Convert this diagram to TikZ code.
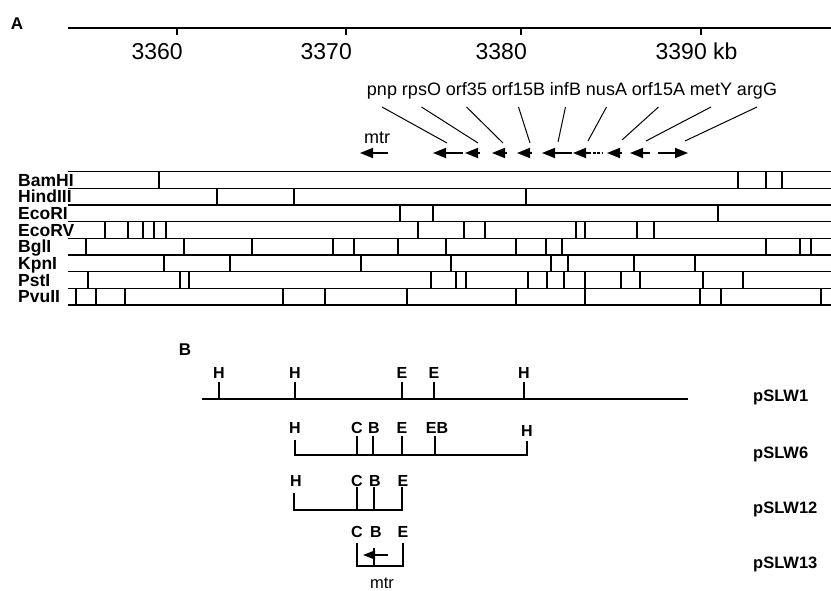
\documentclass[tikz,border=0pt]{standalone}
\usepackage{fontspec}
\setmainfont{Liberation Sans}
\usetikzlibrary{arrows.meta}
\begin{document}
\begin{tikzpicture}[x=1pt,y=-1pt,
  every node/.style={inner sep=0pt},
  rule/.style={line width=1.3pt},
  cutline/.style={line width=1.2pt},
  numlabel/.style={font=\fontsize{23}{27}\selectfont, anchor=base east},
  genelabel/.style={font=\fontsize{18}{21}\selectfont, anchor=base},
  enzlabel/.style={font=\bfseries\fontsize{17.5}{20}\selectfont, anchor=base west},
  sitelabel/.style={font=\bfseries\fontsize{16}{19}\selectfont, anchor=base},
  plasmid/.style={font=\bfseries\fontsize{16.5}{19}\selectfont, anchor=base west},
  panel/.style={font=\bfseries\fontsize{17}{20}\selectfont, anchor=base},
  pointer/.style={line width=1pt},
  genearrow/.style={line width=1.8pt, -{Triangle[length=13pt,width=10pt]}},
]
\useasboundingbox (0,0) rectangle (831,591);

% ---------------- panel A ----------------
\node[panel] (labA) at (17,30) {A};

% kilobase scale
\draw[rule] (68,28) coordinate (axL) -- (831,28) coordinate (axR);
\foreach \x/\t in {177/3360,346/3370,521/3380}{
  \draw[rule] (\x,28) -- (\x,35);
  \node[numlabel] (kb\t) at (\x+6,60) {\t};
}
\draw[rule] (701,28) -- (701,35);
\node[numlabel] (kb3390) at (707,60) {3390\rlap{ kb}};

% gene names
\foreach \g/\x in {pnp/382,rpsO/421.5,orf35/466.5,orf15B/518.5,infB/565.5,nusA/606.5,orf15A/658.5,metY/711,argG/757}{
  \node[genelabel] (\g) at (\x,96) {\g};
}
\node[genelabel] (mtrA) at (377,144) {mtr};

% gene arrows (tip / tail)
\coordinate (mtrT) at (360,153);    \coordinate (mtrE) at (388,153);
\coordinate (pnpT) at (433,153);    \coordinate (pnpE) at (463,153);
\coordinate (rpsOT) at (465,153);   \coordinate (rpsOE) at (480,153);
\coordinate (orf35T) at (492,153);  \coordinate (orf35E) at (507,153);
\coordinate (orf15BT) at (517,153); \coordinate (orf15BE) at (532,153);
\coordinate (infBT) at (542,153);   \coordinate (infBE) at (572,153);
\coordinate (nusAT) at (573,153);   \coordinate (nusAE) at (588,153);
\coordinate (orf15AT) at (607,153); \coordinate (orf15AE) at (622,153);
\coordinate (metYT) at (630,153);   \coordinate (metYE) at (645,153);
\coordinate (argGT) at (688,153);   \coordinate (argGE) at (658,153);

\foreach \g in {mtr,pnp,rpsO,orf35,orf15B,infB,nusA,orf15A,metY,argG}{
  \draw[genearrow] (\g E) -- (\g T);
}
\draw[line width=1.6pt, dash pattern=on 3pt off 1.5pt] (nusAE) -- (602,153);
\draw[line width=1.6pt] (metYE) -- (650,153);

% pointers from names to arrows
\coordinate (pnpP) at (447,143);
\coordinate (rpsOP) at (478,143);
\coordinate (orf35P) at (503,143);
\coordinate (orf15BP) at (530,143);
\coordinate (infBP) at (558,142);
\coordinate (nusAP) at (588,141);
\coordinate (orf15AP) at (622,140);
\coordinate (metYP) at (646,141);
\coordinate (argGP) at (685,141);
\foreach \g in {pnp,rpsO,orf35,orf15B,infB,nusA,orf15A,metY,argG}{
  \draw[pointer] ([yshift=-11pt]\g.base) -- (\g P);
}

% restriction map
\foreach \i in {0,...,8}{
  \draw[rule] (68,{171.7+16.66*\i}) -- (831,{171.7+16.66*\i});
}
\foreach \n/\c [count=\r from 0] in {
  BamHI/{159,738,766,782},
  HindIII/{217,294,526},
  EcoRI/{400,433,718},
  EcoRV/{105,128,143,154,166,418,464,485,576,585,637,654},
  BglI/{86,184,252,333,354,398,446,516,546,562,766,800,811},
  KpnI/{164,230,361,451,551,568,634,695},
  PstI/{88,180,189,431,456,466,528,547,564,585,621,640,703,743},
  PvuII/{76,96,125,283,325,407,516,585,700,721,821}}{
  \pgfmathsetmacro\yt{171.7+16.66*\r}
  \pgfmathsetmacro\yb{\yt+16.66}
  \foreach \x in \c { \draw[cutline] (\x,\yt) -- (\x,\yb); }
  \node[enzlabel] (enz\r) at (18,{\yt+8.33+6.3}) {\n};
}

% ---------------- panel B ----------------
\node[panel] (labB) at (185,355) {B};

% pSLW1
\draw[rule] (202,399) -- (688,399);
\foreach \x/\l [count=\k] in {219/H,295/H,402/E,434/E,524/H}{
  \draw[rule] (\x,382) -- (\x,399);
  \node[sitelabel] (s1-\k) at (\x,378) {\l};
}
\node[plasmid] (p1) at (753,401) {pSLW1};

% pSLW6
\draw[rule] (295,440) -- (295,455) -- (527,455) -- (527,441);
\foreach \x in {357,373,402}{ \draw[rule] (\x,436) -- (\x,455); }
\draw[line width=2.6pt] (435,436) -- (435,455);
\node[sitelabel] (s6-1) at (295,433) {H};
\node[sitelabel] (s6-2) at (357,433) {C};
\node[sitelabel] (s6-3) at (374,433) {B};
\node[sitelabel] (s6-4) at (402,433) {E};
\node[sitelabel] (s6-5) at (437,433) {EB};
\node[sitelabel] (s6-6) at (527,436) {H};
\node[plasmid] (p6) at (753,458) {pSLW6};

% pSLW12
\draw[rule] (294,493) -- (294,510) -- (402,510) -- (402,487);
\foreach \x in {357,374}{ \draw[rule] (\x,487) -- (\x,510); }
\node[sitelabel] (s12-1) at (296,486) {H};
\node[sitelabel] (s12-2) at (357,486) {C};
\node[sitelabel] (s12-3) at (375,486) {B};
\node[sitelabel] (s12-4) at (403,486) {E};
\node[plasmid] (p12) at (753,513) {pSLW12};

% pSLW13
\draw[rule] (357,543) -- (357,566) -- (403,566) -- (403,543);
\draw[rule] (374,548) -- (374,566);
\coordinate (mtrBE) at (388,555);
\coordinate (mtrBT) at (363,555);
\draw[line width=1.6pt, -{Triangle[length=12pt,width=9pt]}] (mtrBE) -- (mtrBT);
\node[sitelabel] (s13-1) at (357,537) {C};
\node[sitelabel] (s13-2) at (376,537) {B};
\node[sitelabel] (s13-3) at (403,537) {E};
\node[genelabel, font=\fontsize{16.5}{19}\selectfont] (mtrB) at (382,588) {mtr};
\node[plasmid] (p13) at (753,568) {pSLW13};
\end{tikzpicture}
\end{document}
